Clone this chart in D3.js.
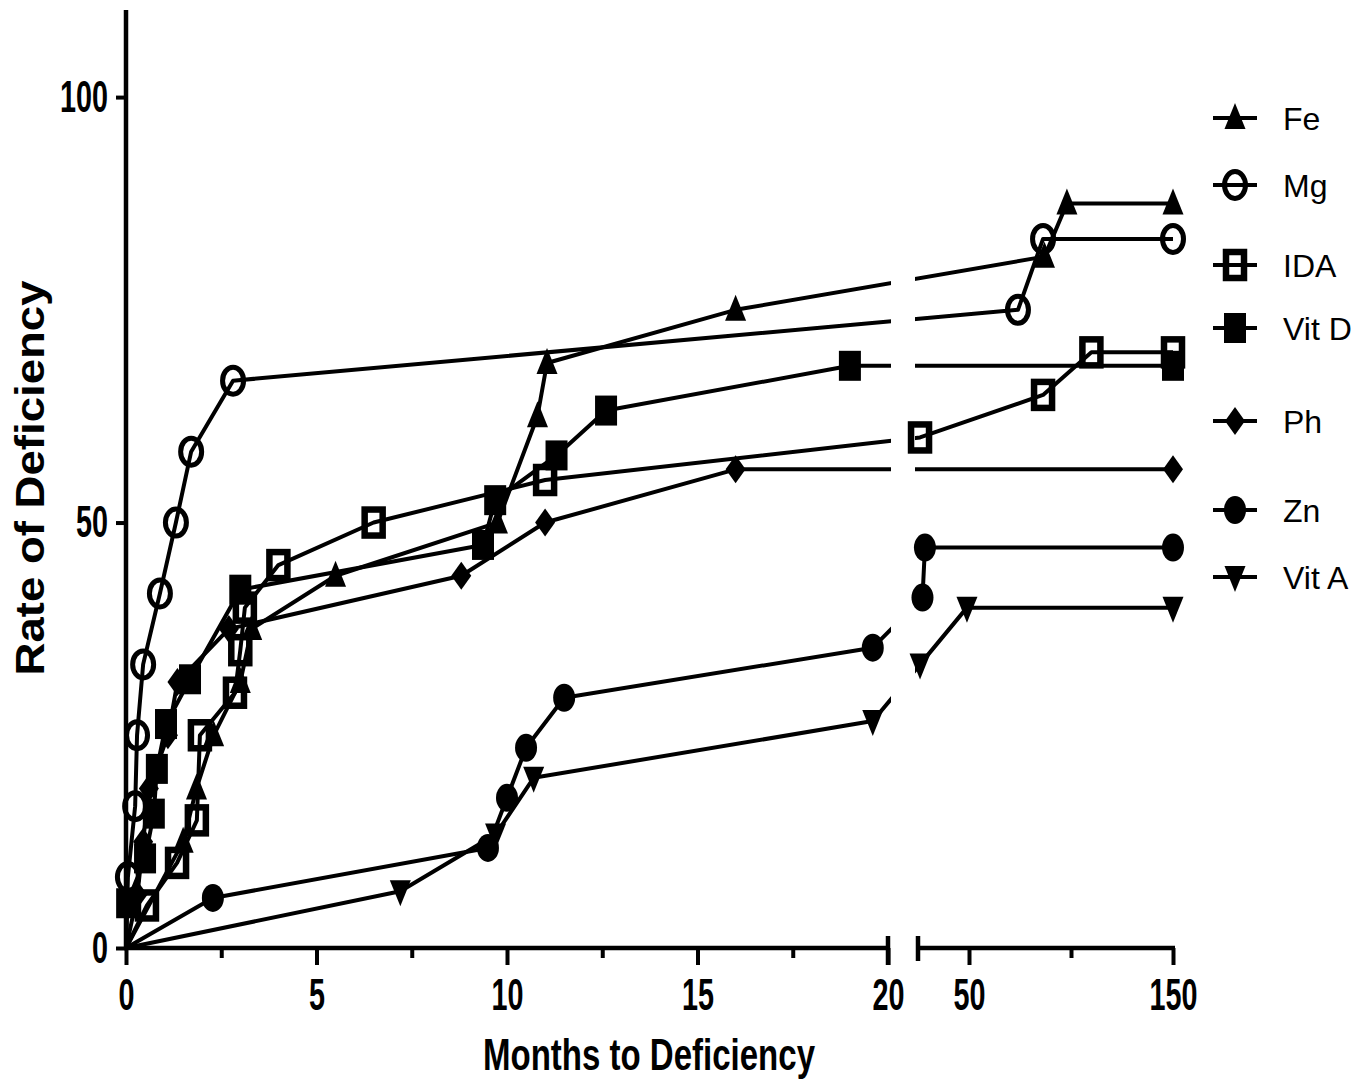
<!DOCTYPE html>
<html>
<head>
<meta charset="utf-8">
<script src="https://cdn.jsdelivr.net/npm/d3@7"></script>
<style>
body { margin: 0; background: #fff }
svg text { font-family: Arial, "Liberation Sans", sans-serif; fill: #000 }
</style>
</head>
<body>
<svg id="chart" width="1372" height="1083"></svg>
<script>
// data (months, % deficient)
var seriesNames = ["Fe", "Mg", "IDA", "Vit D", "Ph", "Zn", "Vit A"]

var feMonths = [0, 1.5, 1.85, 2.3, 3.0, 3.3, 5.5, 9.75, 10.8, 11.05, 16.0, 87, 98, 150]
var feRate = [0, 12.5, 18.75, 25, 31.25, 37.5, 43.75, 50, 62.5, 68.75, 75, 81.25, 87.5, 87.5]

var mgMonths = [0, 0.05, 0.24, 0.29, 0.45, 0.89, 1.31, 1.71, 2.81, 74, 86.3, 150]
var mgRate = [0, 8.33, 16.67, 25, 33.33, 41.67, 50, 58.33, 66.67, 75, 83.33, 83.33]

var idaMonths = [0, 0.55, 1.34, 1.86, 1.94, 2.86, 3.0, 3.12, 4.0, 6.5, 11.0, 26, 86.3, 110, 150]
var idaRate = [0, 5, 10, 15, 25, 30, 35, 40, 45, 50, 55, 60, 65, 70, 70]

var vitDMonths = [0, 0.03, 0.5, 0.73, 0.81, 1.05, 1.68, 3.0, 9.37, 9.69, 11.3, 12.6, 19.0, 150]
var vitDRate = [0, 5.26, 10.53, 15.79, 21.05, 26.32, 31.58, 42.11, 47.37, 52.63, 57.89, 63.16, 68.42, 68.42]

var phMonths = [0, 0.3, 0.45, 0.6, 1.1, 1.35, 2.7, 8.8, 11.0, 16.0, 150]
var phRate = [0, 6.25, 12.5, 18.75, 25, 31.25, 37.5, 43.75, 50, 56.25, 56.25]

var znMonths = [0, 2.28, 9.5, 10.0, 10.5, 11.5, 19.6, 27.2, 28.4, 150]
var znRate = [0, 5.88, 11.76, 17.65, 23.53, 29.41, 35.29, 41.18, 47.06, 47.06]

var vitAMonths = [0, 7.2, 9.7, 10.7, 19.6, 26, 49, 150]
var vitARate = [0, 6.67, 13.33, 20, 26.67, 33.33, 40, 40]

var allMonths = [feMonths, mgMonths, idaMonths, vitDMonths, phMonths, znMonths, vitAMonths]
var allRates = [feRate, mgRate, idaRate, vitDRate, phRate, znRate, vitARate]
var markerTypes = ["triangle", "circleOpen", "squareOpen", "square", "diamond", "circle", "triangleDown"]

var yTicks = [0, 50, 100]
var xTicksLeft = [0, 5, 10, 15, 20]
var xMinorLeft = [2.5, 7.5, 12.5, 17.5]
var xTicksRight = [50, 150]
var xMinorRight = [100]

// layout
var legendY = [118, 185, 265, 328, 421, 510, 577]
var xBreak = [888, 918]

var svg = d3.select("#chart")

var xLeft = d3.scaleLinear().domain([0, 20]).range([126, xBreak[0]])
var xRight = d3.scaleLinear().domain([25, 150]).range([xBreak[1], 1173])
var x = d3.scaleLinear().domain([0, 20, 25, 150]).range([126, xBreak[0], xBreak[1], 1173])
var y = d3.scaleLinear().domain([0, 110]).range([948, 12])

// clip the lines so they show the axis break
var clip = svg.append("defs").append("clipPath").attr("id", "brk")
clip.append("rect").attr("x", 0).attr("y", 0).attr("width", xBreak[0] + 3).attr("height", 1083)
clip.append("rect").attr("x", xBreak[1] - 3).attr("y", 0).attr("width", 1372).attr("height", 1083)

function marker(sel, type) {
    if (type == "circleOpen") {
        sel.append("ellipse").attr("rx", 10.5).attr("ry", 13.5)
            .attr("fill", "none").attr("stroke", "#000").attr("stroke-width", 5)
    } else if (type == "circle") {
        sel.append("ellipse").attr("rx", 11).attr("ry", 14).attr("fill", "#000")
    } else if (type == "squareOpen") {
        sel.append("rect").attr("x", -9).attr("y", -13).attr("width", 18).attr("height", 26)
            .attr("fill", "none").attr("stroke", "#000").attr("stroke-width", 6.5)
    } else if (type == "square") {
        sel.append("rect").attr("x", -11).attr("y", -15).attr("width", 22).attr("height", 30).attr("fill", "#000")
    } else if (type == "diamond") {
        sel.append("path").attr("d", "M0,-14L10,0L0,14L-10,0Z").attr("fill", "#000")
    } else if (type == "triangle") {
        sel.append("path").attr("d", "M0,-15L10.5,11L-10.5,11Z").attr("fill", "#000")
    } else if (type == "triangleDown") {
        sel.append("path").attr("d", "M0,15L10.5,-11L-10.5,-11Z").attr("fill", "#000")
    }
}

var line = d3.line()
    .x(function(d) { return x(d[0]) })
    .y(function(d) { return y(d[1]) })

var plot = svg.append("g")

seriesNames.forEach(function(name, i) {
    var pts = allMonths[i].map(function(m, j) { return [m, allRates[i][j]] })

    plot.append("path")
        .datum(pts)
        .attr("d", line)
        .attr("clip-path", "url(#brk)")
        .attr("fill", "none")
        .attr("stroke", "#000")
        .attr("stroke-width", 4)
        .attr("stroke-linejoin", "round")

    plot.selectAll(null)
        .data(pts.filter(function(d) { return d[0] > 0 || d[1] > 0 }))
        .enter().append("g")
        .attr("transform", function(d) { return "translate(" + x(d[0]) + "," + y(d[1]) + ")" })
        .each(function() { marker(d3.select(this), markerTypes[i]) })
})

// axes
function styleAxis(g, w) {
    g.select(".domain").remove()
    g.selectAll(".tick line").attr("stroke", "#000").attr("stroke-width", 4)
    g.selectAll(".tick text")
        .attr("font-size", 44)
        .attr("font-weight", "bold")
        .attr("textLength", function(d) { return String(d).length * w })
        .attr("lengthAdjust", "spacingAndGlyphs")
}

var fmt = d3.format("d")

svg.append("g").attr("transform", "translate(0,948)")
    .call(d3.axisBottom(xLeft).tickValues(xTicksLeft).tickSize(17).tickPadding(14).tickFormat(fmt))
    .call(styleAxis, 16)
svg.append("g").attr("transform", "translate(0,948)")
    .call(d3.axisBottom(xLeft).tickValues(xMinorLeft).tickSize(10).tickFormat(""))
    .call(styleAxis, 16)
svg.append("g").attr("transform", "translate(0,948)")
    .call(d3.axisBottom(xRight).tickValues(xTicksRight).tickSize(17).tickPadding(14).tickFormat(fmt))
    .call(styleAxis, 16)
svg.append("g").attr("transform", "translate(0,948)")
    .call(d3.axisBottom(xRight).tickValues(xMinorRight).tickSize(10).tickFormat(""))
    .call(styleAxis, 16)

svg.append("g").attr("transform", "translate(126,0)")
    .call(d3.axisLeft(y).tickValues(yTicks).tickSize(10).tickPadding(8).tickFormat(fmt))
    .call(styleAxis, 16)

var axisLines = svg.append("g").attr("stroke", "#000").attr("stroke-width", 4.5)
axisLines.append("line").attr("x1", 126).attr("x2", 126).attr("y1", 10).attr("y2", 950)
axisLines.append("line").attr("x1", 124).attr("x2", xBreak[0]).attr("y1", 948).attr("y2", 948)
axisLines.append("line").attr("x1", xBreak[1]).attr("x2", 1175).attr("y1", 948).attr("y2", 948)
axisLines.append("line").attr("x1", xBreak[0]).attr("x2", xBreak[0]).attr("y1", 936).attr("y2", 965)
axisLines.append("line").attr("x1", xBreak[1]).attr("x2", xBreak[1]).attr("y1", 936).attr("y2", 961)

// titles
svg.append("text")
    .attr("x", 649).attr("y", 1070)
    .attr("text-anchor", "middle")
    .attr("font-size", 44).attr("font-weight", "bold")
    .attr("textLength", 332).attr("lengthAdjust", "spacingAndGlyphs")
    .text("Months to Deficiency")

svg.append("text")
    .attr("transform", "translate(44,478) rotate(-90)")
    .attr("text-anchor", "middle")
    .attr("font-size", 40).attr("font-weight", "bold")
    .attr("textLength", 395).attr("lengthAdjust", "spacingAndGlyphs")
    .text("Rate of Deficiency")

// legend
var legend = svg.append("g")
seriesNames.forEach(function(name, i) {
    var item = legend.append("g").attr("transform", "translate(1235," + legendY[i] + ")")
    item.append("line").attr("x1", -22).attr("x2", 22).attr("stroke", "#000").attr("stroke-width", 4)
    marker(item, markerTypes[i])
    item.append("text").attr("x", 48).attr("y", 11.5).attr("font-size", 32).text(name)
})
</script>
</body>
</html>
